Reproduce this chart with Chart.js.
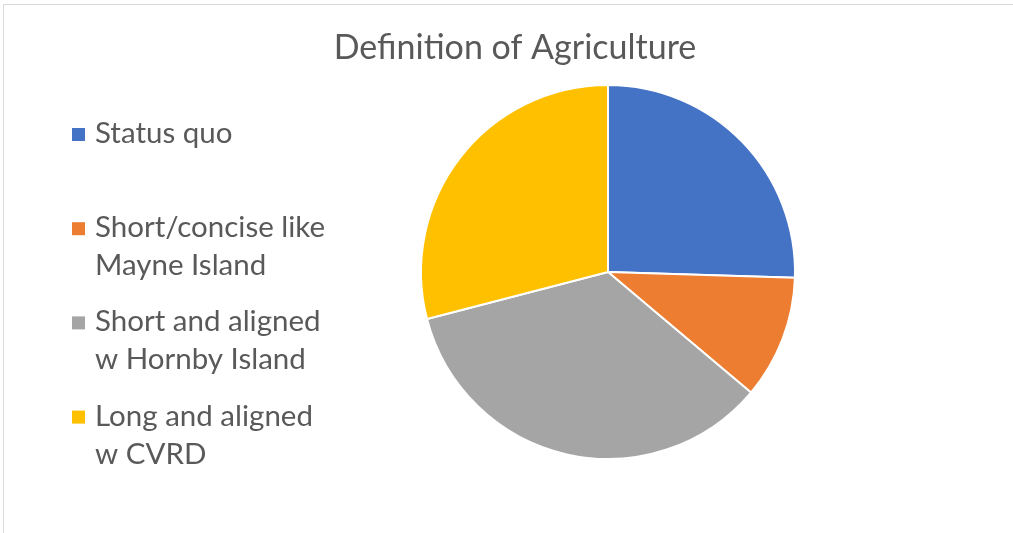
<!DOCTYPE html>
<html>
<head>
<meta charset="utf-8">
<script src="https://cdn.jsdelivr.net/npm/chart.js@4.4.0/dist/chart.umd.min.js"></script>
<style>
  html, body { margin: 0; padding: 0; background: #fff; overflow: hidden; }
  #wrap { position: absolute; left: 0; top: 0; width: 1013px; height: 533px; }
</style>
</head>
<body>
<div id="wrap"><canvas id="pieChart"></canvas></div>
<script>
const chartTitle = 'Definition of Agriculture';
const categories = [
  ['Status quo'],
  ['Short/concise like', 'Mayne Island'],
  ['Short and aligned', 'w Hornby Island'],
  ['Long and aligned', 'w CVRD']
];
const shares = [25.5, 10.65, 34.8, 29.05];
const sliceColors = ['#4472C4', '#ED7D31', '#A5A5A5', '#FFC000'];

const textColor = '#595959';
const fontFamily = 'Lato, "Open Sans", sans-serif';

// frame, title and the wrapped legend the way the spreadsheet draws them
const excelLook = {
  id: 'excelLook',
  beforeDraw(chart) {
    const ctx = chart.ctx;
    ctx.save();
    ctx.strokeStyle = '#d9d9d9';
    ctx.lineWidth = 1;
    ctx.strokeRect(3.5, 4.5, 1100, 600);
    ctx.restore();
  },
  afterDraw(chart) {
    const ctx = chart.ctx;
    ctx.save();
    ctx.fillStyle = textColor;
    ctx.textBaseline = 'alphabetic';
    ctx.textAlign = 'center';
    ctx.font = '34px ' + fontFamily;
    ctx.fillText(chartTitle, 515, 59);

    ctx.textAlign = 'left';
    ctx.font = '29.5px ' + fontFamily;
    const colors = chart.data.datasets[0].backgroundColor;
    chart.data.labels.forEach((lines, i) => {
      const base = 143 + 94.2 * i;
      ctx.fillStyle = colors[i];
      ctx.fillRect(72, base - 15, 13, 13);
      ctx.fillStyle = textColor;
      lines.forEach((line, j) => ctx.fillText(line, 95, base + 38 * j));
    });
    ctx.restore();
  }
};

new Chart(document.getElementById('pieChart').getContext('2d'), {
  type: 'pie',
  data: {
    labels: categories,
    datasets: [{
      data: shares,
      backgroundColor: sliceColors,
      borderColor: '#ffffff',
      borderWidth: 2,
      hoverOffset: 0
    }]
  },
  options: {
    responsive: true,
    maintainAspectRatio: false,
    animation: false,
    layout: { padding: { left: 420, right: 217, top: 84, bottom: 73 } },
    plugins: {
      legend: { display: false },
      title: { display: false },
      tooltip: { enabled: false }
    }
  },
  plugins: [excelLook]
});
</script>
</body>
</html>
